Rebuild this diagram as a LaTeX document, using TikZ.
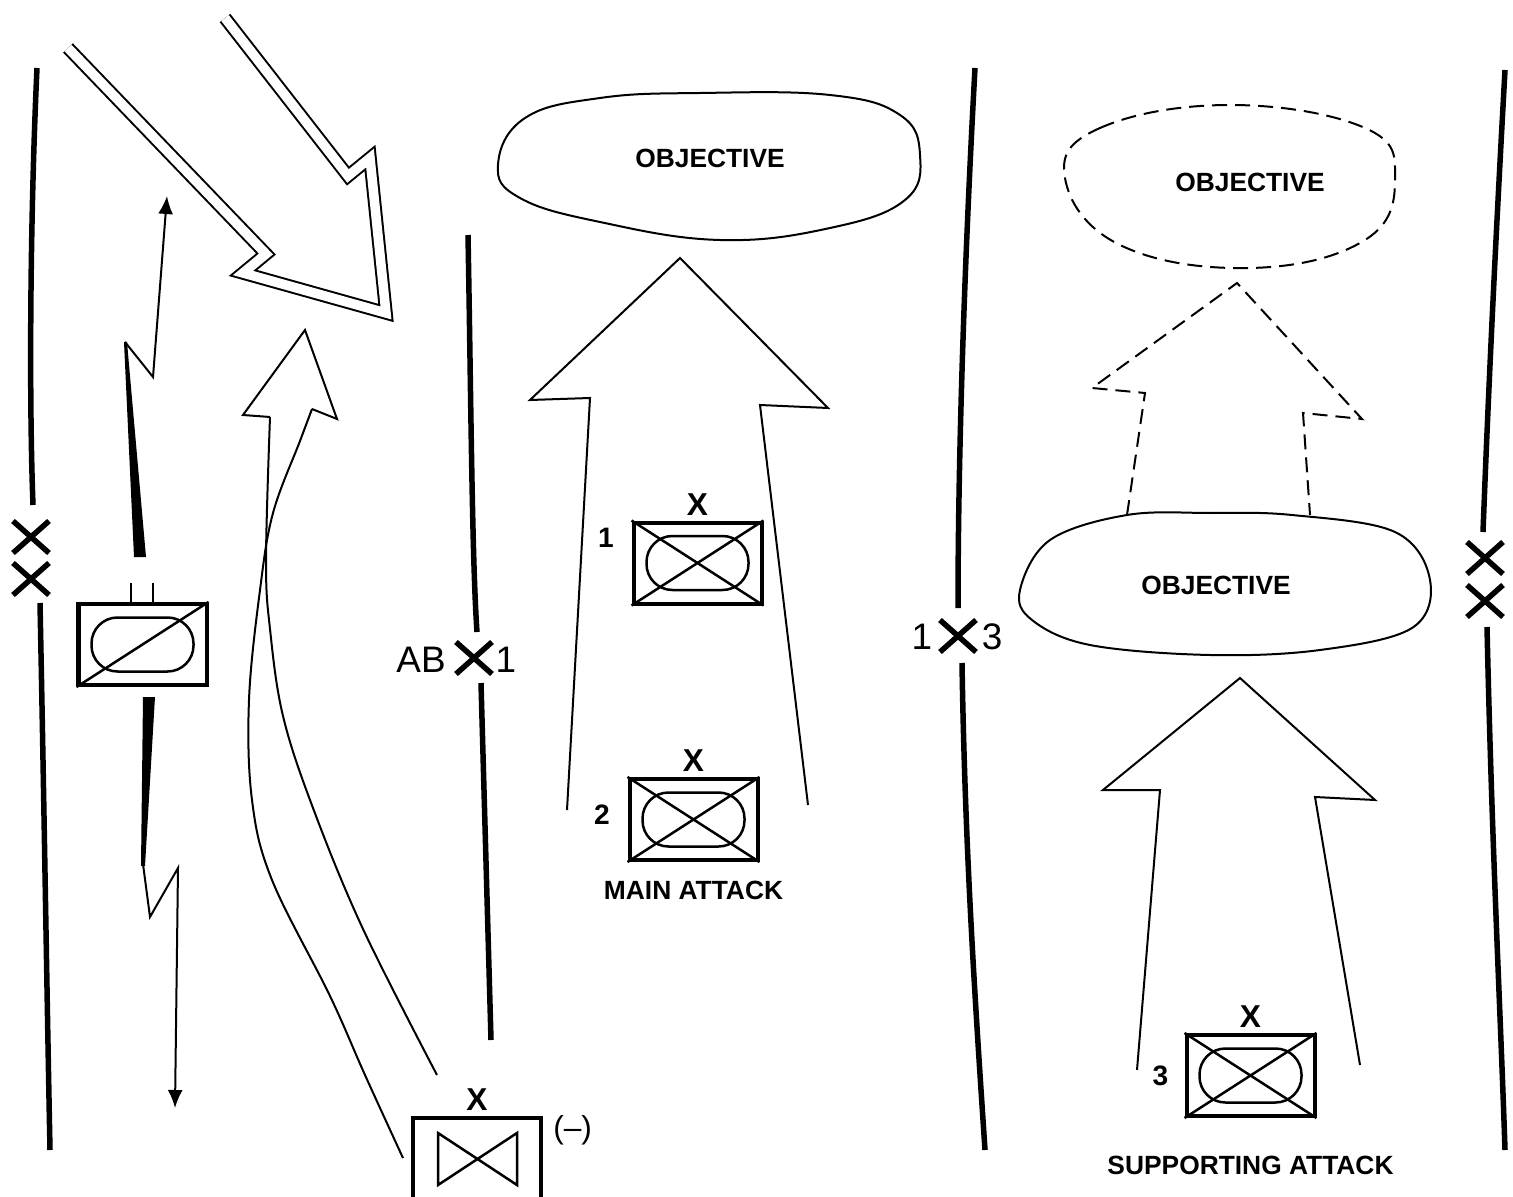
\documentclass[tikz,border=0pt]{standalone}
\usepackage{fontspec}
\setmainfont{Liberation Sans}
\usetikzlibrary{arrows.meta,positioning,calc}

\begin{document}
\begin{tikzpicture}[x=0.2mm,y=-0.2mm,
    bnd/.style={line width=1.1mm},
    ln/.style={line width=0.4mm},
    fut/.style={ln,dash pattern=on 3mm off 1.6mm},
    enemy/.style={line width=0.4mm,double=white,double distance=1.9mm},
    arr/.style={-{Latex[length=3.6mm,width=3mm]}},
    unitbox/.style={draw,line width=0.8mm,minimum width=25.6mm,minimum height=16.2mm,inner sep=0pt},
    oval/.style={draw,line width=0.5mm,rounded corners=5.2mm,minimum width=20.4mm,minimum height=10.8mm,inner sep=0pt},
    ech/.style={font=\fontsize{18}{18}\selectfont\bfseries,inner sep=0pt},
    num/.style={font=\fontsize{16}{16}\selectfont\bfseries,inner sep=0pt},
    bnum/.style={font=\fontsize{21}{21}\selectfont,inner sep=0pt},
    lbl/.style={font=\fontsize{15}{15}\selectfont\bfseries,inner sep=0pt},
    xmark/.pic={\draw[line width=1.1mm] (-18,-16)--(18,16) (-18,16)--(18,-16);}]
  \useasboundingbox (0,0) rectangle (1513,1197);

  % boundaries
  \draw[bnd] (37,68) .. controls (30,220) and (29,400) .. (33,505);
  \draw[bnd] (40,603) .. controls (44,800) and (47,1000) .. (50,1150);
  \pic at (31,537) {xmark};
  \pic at (31,579) {xmark};

  \draw[bnd] (468,235) .. controls (471,400) and (472,560) .. (477,632);
  \draw[bnd] (481,683) -- (491,1040);
  \node[bnum] (ab) at (421,660) {AB};
  \pic at (474,658) {xmark};
  \node[bnum] (ab1) at (506,660) {1};

  \draw[bnd] (975,68) .. controls (965,250) and (958,450) .. (958,608);
  \draw[bnd] (962,663) .. controls (965,850) and (975,1000) .. (985,1150);
  \node[bnum] (bl1) at (922,637) {1};
  \pic at (958,636) {xmark};
  \node[bnum] (bl3) at (992,637) {3};

  \draw[bnd] (1505,70) .. controls (1495,250) and (1488,400) .. (1483,532);
  \draw[bnd] (1487,627) .. controls (1492,850) and (1500,1000) .. (1505,1150);
  \pic at (1485,558) {xmark};
  \pic at (1485,601) {xmark};

  % enemy attack
  \draw[enemy] (68,48) -- (266,254) -- (243,273) -- (386,313) -- (370,158) -- (348,176) -- (225,18);

  % screen line and unit
  \draw[ln,arr] (125,342) -- (153,377) -- (167,196);
  \fill (124,342) -- (127,342) -- (146,557) -- (134,557) -- cycle;
  \draw[ln] (131,583) -- (131,603) (153,583) -- (153,603);
  \node[unitbox] (ul) at (142.5,644.5) {};
  \node[oval] (ulo) at (ul) {};
  \draw[line width=0.5mm] (ul.south west) -- (ul.north east);
  \fill (143,697) -- (155,697) -- (145,866) -- (141,866) -- cycle;
  \draw[ln,arr] (143,864) -- (150,917) -- (178,868) -- (175,1108);

  % envelopment
  \draw[ln] (270,417) -- (243,415) -- (305,330) -- (337,419) -- (312,409);
  \draw[ln] plot[smooth,tension=0.6] coordinates {(270,417) (266,560) (270,629) (283,716) (313,808) (363,929) (437,1075)};
  \draw[ln] plot[smooth,tension=0.6] coordinates {(312,409) (300,441) (273,513) (260,590) (249,700) (252,800) (272,880) (330,996) (365,1075) (403,1158)};
  \node[unitbox] (ub) at (477,1158) {};
  \draw[line width=0.5mm] (438,1133) -- (438,1185) -- (517,1133) -- (517,1185) -- cycle;
  \node[ech,above=1mm of ub] (ube) {X};
  \node[font=\fontsize{18}{18}\selectfont,inner sep=0pt,anchor=north west] (ubm) at ($(ub.north east)+(10,0)$) {(--)};

  % main attack
  \draw[ln] plot[smooth cycle,tension=0.7] coordinates {(498,165) (525,118) (600,98) (700,93) (830,95) (900,115) (920,155) (905,200) (830,228) (720,240) (600,222) (520,198)};
  \node[lbl] (obj1) at (710,158) {OBJECTIVE};
  \draw[ln] (567,810) -- (590,398) -- (530,400) -- (680,258) -- (828,408) -- (760,405) -- (808,805);
  \node[unitbox] (u1) at (697.5,563) {};
  \node[oval] (u1o) at (u1) {};
  \draw[line width=0.5mm] (u1.south west) -- (u1.north east) (u1.north west) -- (u1.south east);
  \node[ech,above=1mm of u1] (u1e) {X};
  \node[num,left=3.5mm of u1,yshift=5mm] (u1n) {1};
  \node[unitbox] (u2) at (693.5,819.5) {};
  \node[oval] (u2o) at (u2) {};
  \draw[line width=0.5mm] (u2.south west) -- (u2.north east) (u2.north west) -- (u2.south east);
  \node[ech,above=1mm of u2] (u2e) {X};
  \node[num,left=3.5mm of u2,yshift=1mm] (u2n) {2};
  \node[lbl,below=3.8mm of u2] (main) {MAIN ATTACK};

  % supporting attack
  \draw[fut] plot[smooth cycle,tension=0.7] coordinates {(1065,178) (1100,128) (1230,105) (1365,128) (1395,178) (1365,240) (1250,268) (1120,245)};
  \node[lbl] (obj2) at (1250,182) {OBJECTIVE};
  \draw[fut] (1127,515) -- (1145,393) -- (1092,388) -- (1237,283) -- (1362,419) -- (1303,413) -- (1310,515);
  \draw[ln] plot[smooth cycle,tension=0.6] coordinates {(1020,590) (1050,540) (1127,515) (1210,513) (1292,515) (1395,532) (1430,580) (1412,628) (1320,650) (1210,655) (1090,645) (1032,620)};
  \node[lbl] (obj3) at (1216,585) {OBJECTIVE};
  \draw[ln] (1137,1070) -- (1160,790) -- (1103,790) -- (1240,678) -- (1375,800) -- (1315,797) -- (1360,1065);
  \node[unitbox] (u3) at (1250.5,1075.5) {};
  \node[oval] (u3o) at (u3) {};
  \draw[line width=0.5mm] (u3.south west) -- (u3.north east) (u3.north west) -- (u3.south east);
  \node[ech,above=1mm of u3] (u3e) {X};
  \node[num,left=3.2mm of u3] (u3n) {3};
  \node[lbl,below=7.5mm of u3] (supp) {SUPPORTING ATTACK};
\end{tikzpicture}
\end{document}
